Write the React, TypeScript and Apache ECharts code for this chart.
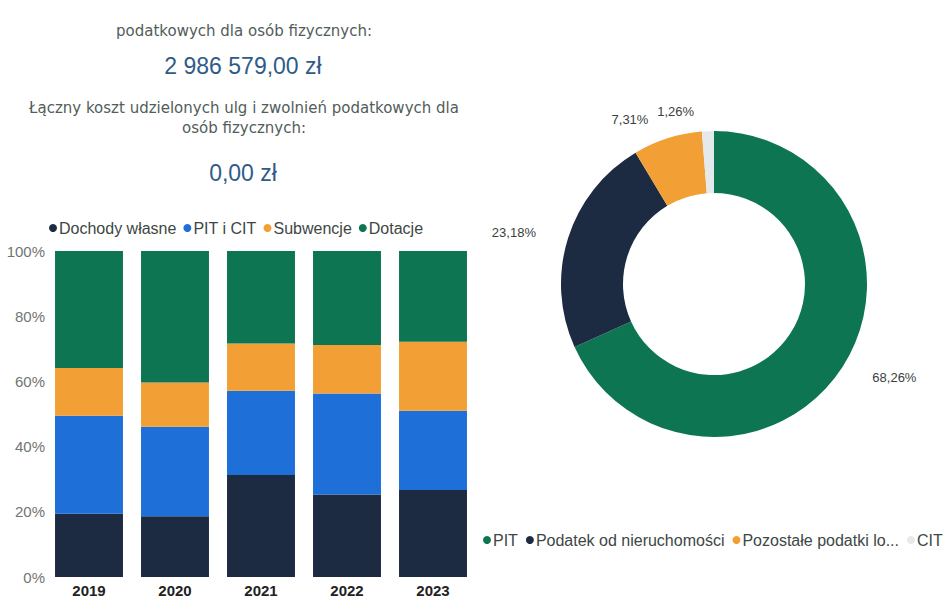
import React, { useEffect, useRef } from "react";
import * as echarts from "echarts";

const years = ["2019", "2020", "2021", "2022", "2023"];
const dochodyWlasne = [19.4, 18.6, 31.3, 25.3, 26.7];
const pitCit = [30.1, 27.5, 25.8, 31.0, 24.3];
const subwencje = [14.6, 13.6, 14.5, 14.9, 21.2];
const dotacje = [35.9, 40.3, 28.4, 28.8, 27.8];

const pieNames = ["PIT", "Podatek od nieruchomości", "Pozostałe podatki lokalne", "CIT"];
const pieValues = [68.26, 23.18, 7.31, 1.26];

const titleLine1 = "podatkowych dla osób fizycznych:";
const amount1 = "2 986 579,00 zł";
const titleLine2a = "Łączny koszt udzielonych ulg i zwolnień podatkowych dla";
const titleLine2b = "osób fizycznych:";
const amount2 = "0,00 zł";

const C_NAVY = "#1c2a42";
const C_BLUE = "#1f6fd8";
const C_ORANGE = "#f2a035";
const C_GREEN = "#0e7553";
const C_LIGHT = "#e4eaec";
const FONT = "'Liberation Sans', Arial, sans-serif";
const WIDE = "'DejaVu Sans', Verdana, sans-serif";

export default function App() {
  const ref = useRef<HTMLDivElement>(null);
  useEffect(() => {
    const chart = echarts.init(ref.current!, null, { renderer: "svg" });
    const greyText = { color: "#525d59", fontSize: 15, fontFamily: WIDE, fontWeight: "normal" as const };
    const blueText = { color: "#2f5b88", fontSize: 23, fontFamily: FONT, fontWeight: "normal" as const };
    const barSeries = [
      { name: "Dochody własne", data: dochodyWlasne, color: C_NAVY },
      { name: "PIT i CIT", data: pitCit, color: C_BLUE },
      { name: "Subwencje", data: subwencje, color: C_ORANGE },
      { name: "Dotacje", data: dotacje, color: C_GREEN },
    ].map((s) => ({
      type: "bar",
      name: s.name,
      stack: "total",
      data: s.data,
      itemStyle: { color: s.color },
      barCategoryGap: "21%",
    }));
    chart.setOption({
      animation: false,
      title: [
        { text: titleLine1, left: 239, top: 18, textAlign: "center", textStyle: greyText },
        { text: amount1, left: 238, top: 49, textAlign: "center", textStyle: blueText },
        { text: titleLine2a, left: 239, top: 95, textAlign: "center", textStyle: greyText },
        { text: titleLine2b, left: 239, top: 115, textAlign: "center", textStyle: greyText },
        { text: amount2, left: 238, top: 156, textAlign: "center", textStyle: blueText },
      ],
      legend: [
        {
          data: ["Dochody własne", "PIT i CIT", "Subwencje", "Dotacje"],
          left: 44,
          top: 215,
          icon: "circle",
          itemWidth: 8,
          itemHeight: 8,
          itemGap: 7,
          textStyle: { color: "#3d4744", fontSize: 16, fontFamily: FONT, padding: [0, 0, 0, -3] },
        },
        {
          data: pieNames,
          left: 478,
          top: 527,
          width: 480,
          icon: "circle",
          itemWidth: 8,
          itemHeight: 8,
          itemGap: 8,
          formatter: (n: string) => (n === "Pozostałe podatki lokalne" ? "Pozostałe podatki lo..." : n),
          textStyle: { color: "#3d4744", fontSize: 16, fontFamily: FONT, padding: [0, 0, 0, -3] },
        },
      ],
      grid: { left: 46, top: 251, width: 430, height: 326, containLabel: false },
      xAxis: {
        type: "category",
        data: years,
        axisLine: { show: false },
        axisTick: { show: false },
        axisLabel: { color: "#222", fontSize: 15, fontWeight: "bold", fontFamily: FONT, margin: 6 },
      },
      yAxis: {
        type: "value",
        min: 0,
        max: 100,
        interval: 20,
        splitLine: { show: false },
        axisLabel: { formatter: "{value}%", color: "#707574", fontSize: 15, fontFamily: FONT, margin: 1 },
      },
      series: [
        ...barSeries,
        {
          type: "pie",
          center: [714, 284],
          radius: [91, 153],
          startAngle: 90,
          clockwise: true,
          avoidLabelOverlap: false,
          data: pieNames.map((n, i) => ({
            name: n,
            value: pieValues[i],
            itemStyle: { color: [C_GREEN, C_NAVY, C_ORANGE, C_LIGHT][i] },
          })),
          label: {
            show: true,
            position: "outside",
            formatter: (p: any) => p.value.toFixed(2).replace(".", ",") + "%",
            color: "#3a3f3e",
            fontSize: 13,
            fontFamily: FONT,
          },
          labelLine: { show: false, length: 20, length2: 8 },
        },
      ],
    });
    return () => chart.dispose();
  }, []);
  return (
    <div
      ref={ref}
      style={{ position: "fixed", left: 0, top: 0, width: 944, height: 598, background: "#fff" }}
    />
  );
}
